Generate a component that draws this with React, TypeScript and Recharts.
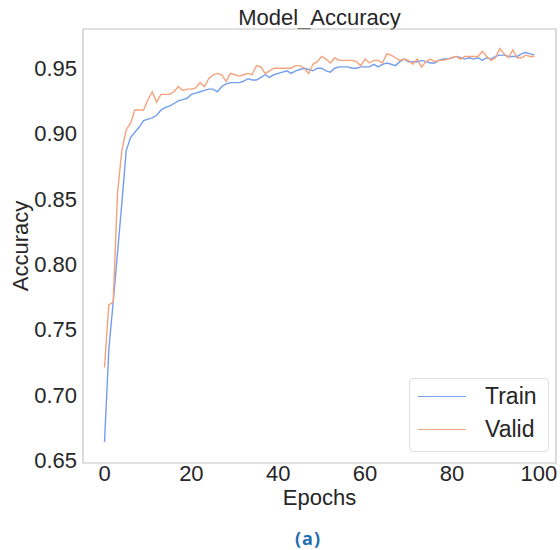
import { LineChart, Line, XAxis, YAxis, Legend, ReferenceArea } from "recharts";

// accuracy per epoch
const train = [
  0.664, 0.735, 0.771, 0.809, 0.847, 0.887, 0.897, 0.901, 0.905, 0.910,
  0.911, 0.912, 0.914, 0.918, 0.920, 0.921, 0.923, 0.925, 0.926, 0.927,
  0.930, 0.931, 0.932, 0.933, 0.934, 0.934, 0.932, 0.936, 0.938, 0.939,
  0.939, 0.939, 0.940, 0.942, 0.941, 0.941, 0.943, 0.945, 0.943, 0.945,
  0.946, 0.947, 0.948, 0.946, 0.948, 0.949, 0.950, 0.949, 0.948, 0.950,
  0.950, 0.948, 0.947, 0.950, 0.951, 0.951, 0.951, 0.950, 0.950, 0.951,
  0.951, 0.951, 0.953, 0.951, 0.953, 0.954, 0.953, 0.952, 0.955, 0.957,
  0.955, 0.955, 0.955, 0.956, 0.955, 0.954, 0.954, 0.956, 0.957, 0.957,
  0.958, 0.959, 0.958, 0.957, 0.958, 0.957, 0.958, 0.956, 0.958, 0.957,
  0.959, 0.960, 0.960, 0.959, 0.959, 0.959, 0.961, 0.962, 0.961, 0.960,
];
const valid = [
  0.721, 0.769, 0.771, 0.855, 0.887, 0.903, 0.908, 0.918, 0.918, 0.918,
  0.926, 0.932, 0.924, 0.930, 0.930, 0.930, 0.932, 0.936, 0.933, 0.934,
  0.934, 0.935, 0.939, 0.936, 0.942, 0.945, 0.946, 0.945, 0.940, 0.946,
  0.945, 0.944, 0.945, 0.946, 0.945, 0.952, 0.951, 0.946, 0.948, 0.950,
  0.950, 0.950, 0.950, 0.950, 0.952, 0.952, 0.950, 0.946, 0.953, 0.955,
  0.959, 0.957, 0.954, 0.958, 0.956, 0.956, 0.956, 0.956, 0.955, 0.952,
  0.957, 0.954, 0.956, 0.956, 0.954, 0.961, 0.960, 0.958, 0.956, 0.957,
  0.956, 0.953, 0.957, 0.951, 0.955, 0.957, 0.955, 0.956, 0.956, 0.957,
  0.958, 0.959, 0.957, 0.959, 0.959, 0.959, 0.959, 0.963, 0.959, 0.956,
  0.958, 0.965, 0.961, 0.958, 0.964, 0.958, 0.958, 0.960, 0.959, 0.959,
];
const xTicks = [0, 20, 40, 60, 80, 100];
const yTicks = [0.65, 0.7, 0.75, 0.8, 0.85, 0.9, 0.95];
const X_DOMAIN = [-4.95, 103.95];
const Y_DOMAIN = [0.648, 0.98];

const data = train.map((t, i) => ({ epoch: i, train: t, valid: valid[i] }));

const FONT = "'Liberation Sans', Arial, sans-serif";
const INK = "#262626";
const TICK = { fontSize: 22, fill: INK, fontFamily: FONT };

function LegendBox({ payload }: any) {
  return (
    <div
      style={{
        width: 140, height: 74, boxSizing: "border-box", paddingLeft: 8, paddingTop: 1,
        border: "1px solid #dedede", borderRadius: 4, background: "rgba(255,255,255,0.85)",
        fontFamily: FONT, fontSize: 23, color: INK,
      }}
    >
      {(payload || []).map((p: any) => (
        <div key={p.value} style={{ height: 33, display: "flex", alignItems: "center" }}>
          <span style={{ width: 48, height: 0, borderTop: `1.5px solid ${p.color}`, marginRight: 19 }} />
          <span>{p.value}</span>
        </div>
      ))}
    </div>
  );
}

export default function App() {
  return (
    <div style={{ position: "absolute", left: 0, top: 0, width: 560, height: 550, background: "#fff" }}>
      <div
        style={{
          position: "absolute", left: 83, width: 473, top: 7, lineHeight: "22px",
          textAlign: "center", fontFamily: FONT, fontSize: 22, color: INK,
        }}
      >
        Model_Accuracy
      </div>

      <LineChart width={560} height={550} data={data} margin={{ top: 29, right: 4, left: 0, bottom: 0 }}>
        <XAxis
          dataKey="epoch" type="number" domain={X_DOMAIN} ticks={xTicks} allowDataOverflow
          height={87} axisLine={false} tickLine={false} tickSize={0} tickMargin={2} tick={TICK}
          label={{
            content: ({ viewBox }: any) => (
              <text x={viewBox.x + viewBox.width / 2} y={505} textAnchor="middle" fontSize={22} fill={INK} fontFamily={FONT}>
                Epochs
              </text>
            ),
          }}
        />
        <YAxis
          type="number" domain={Y_DOMAIN} ticks={yTicks} allowDataOverflow
          width={83} axisLine={false} tickLine={false} tickSize={0} tickMargin={6} tick={TICK}
          tickFormatter={(v) => v.toFixed(2)}
          label={{
            content: ({ viewBox }: any) => {
              const cy = viewBox.y + viewBox.height / 2;
              return (
                <text x={28} y={cy} textAnchor="middle" fontSize={22} fill={INK} fontFamily={FONT} transform={`rotate(-90 28 ${cy})`}>
                  Accuracy
                </text>
              );
            },
          }}
        />
        <ReferenceArea
          x1={X_DOMAIN[0]} x2={X_DOMAIN[1]} y1={Y_DOMAIN[0]} y2={Y_DOMAIN[1]}
          fill="none" fillOpacity={0} stroke="#c4c4c4" strokeWidth={1.2}
        />
        <Line dataKey="train" name="Train" stroke="#739ef0" strokeWidth={1.4} dot={false} isAnimationActive={false} />
        <Line dataKey="valid" name="Valid" stroke="#f6a27c" strokeWidth={1.4} dot={false} isAnimationActive={false} />
        <Legend
          layout="vertical" align="center" verticalAlign="middle"
          wrapperStyle={{ left: 409, top: 378, width: 140, height: 74 }}
          content={<LegendBox />}
        />
      </LineChart>

      <div
        style={{
          position: "absolute", left: 263, width: 90, top: 529, lineHeight: "19px", textAlign: "center",
          fontFamily: "'Open Sans', sans-serif", fontWeight: 700, fontSize: 18, letterSpacing: 1,
          color: "#1f6db2",
        }}
      >
        (a)
      </div>
    </div>
  );
}
